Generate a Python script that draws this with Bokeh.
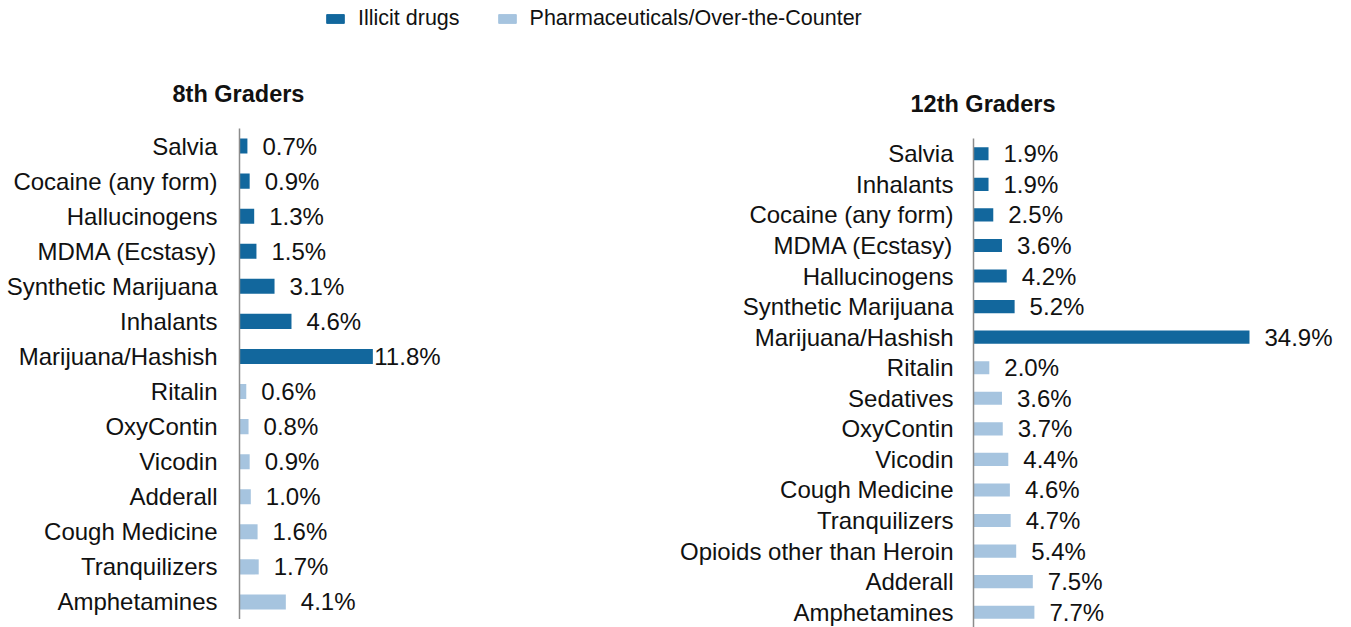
from bokeh.plotting import figure
from bokeh.models import FactorRange, Range1d, ColumnDataSource, Legend, LegendItem, Spacer
from bokeh.layouts import column, row
from bokeh.embed import file_html
from bokeh.resources import INLINE
import numpy as np

# ---- data ----
g8_cats = ["Salvia", "Cocaine (any form)", "Hallucinogens", "MDMA (Ecstasy)",
           "Synthetic Marijuana", "Inhalants", "Marijuana/Hashish",
           "Ritalin", "OxyContin", "Vicodin", "Adderall", "Cough Medicine",
           "Tranquilizers", "Amphetamines"]
g8_vals = [0.7, 0.9, 1.3, 1.5, 3.1, 4.6, 11.8, 0.6, 0.8, 0.9, 1.0, 1.6, 1.7, 4.1]
g8_kind = ["illicit"] * 7 + ["pharma"] * 7

g12_cats = ["Salvia", "Inhalants", "Cocaine (any form)", "MDMA (Ecstasy)",
            "Hallucinogens", "Synthetic Marijuana", "Marijuana/Hashish",
            "Ritalin", "Sedatives", "OxyContin", "Vicodin", "Cough Medicine",
            "Tranquilizers", "Opioids other than Heroin", "Adderall", "Amphetamines"]
g12_vals = [1.9, 1.9, 2.5, 3.6, 4.2, 5.2, 34.9, 2.0, 3.6, 3.7, 4.4, 4.6, 4.7, 5.4, 7.5, 7.7]
g12_kind = ["illicit"] * 7 + ["pharma"] * 9

series_labels = ["Illicit drugs", "Pharmaceuticals/Over-the-Counter"]

DARK = "#12679D"
LIGHT = "#A6C4DF"
FONT = "Liberation Sans"
colmap = {"illicit": DARK, "pharma": LIGHT}


def panel(cats, vals, kinds, width, height, border_left, border_top, xmax,
          label_clip, title, title_offset, title_standoff, standoff):
    vals = np.array(vals, dtype=float)
    src = ColumnDataSource(dict(
        cat=cats, val=vals, color=[colmap[k] for k in kinds],
        lx=np.minimum(vals, label_clip),
        lbl=[f"{v:.1f}%" for v in vals]))
    p = figure(width=width, height=height,
               y_range=FactorRange(factors=cats[::-1], range_padding=0),
               x_range=Range1d(0, xmax), x_axis_location=None,
               toolbar_location=None, output_backend="svg",
               min_border_left=border_left, min_border_top=border_top,
               min_border_bottom=0, min_border_right=0,
               outline_line_color=None, background_fill_color=None,
               border_fill_color=None)
    p.grid.visible = False
    p.hbar(y="cat", left=0, right="val", height=0.43, color="color",
           line_color=None, source=src)
    p.text(x="lx", y="cat", text="lbl", x_offset=15, text_align="left",
           text_baseline="middle", text_font_size="24px",
           text_font={"value": FONT}, text_color="#111111", source=src)
    ax = p.yaxis[0]
    ax.major_tick_line_color = None
    ax.minor_tick_line_color = None
    ax.axis_line_color = "#8c8c8c"
    ax.axis_line_width = 1.5
    ax.major_label_text_font = FONT
    ax.major_label_text_font_size = "24px"
    ax.major_label_text_color = "#111111"
    ax.major_label_standoff = standoff
    p.title.text = title
    p.title.align = "left"
    p.title.offset = title_offset
    p.title.standoff = title_standoff
    p.title.text_font = FONT
    p.title.text_font_size = "23.5px"
    p.title.text_font_style = "bold"
    p.title.text_color = "#111111"
    return p


left = panel(g8_cats, g8_vals, g8_kind, 668, 583, 239, 92, 37.96, 10.6,
             "8th Graders", -67, 44, 16)
right = panel(g12_cats, g12_vals, g12_kind, 683, 581, 305, 92, 47.8, 60.0,
              "12th Graders", -63, 43, 14)

# ---- legend strip ----
lg = figure(width=1351, height=36, x_range=Range1d(0, 1), y_range=Range1d(0, 1),
            toolbar_location=None, output_backend="svg",
            x_axis_location=None, y_axis_location=None,
            min_border=0, outline_line_color=None)
lg.grid.visible = False
r1 = lg.rect(x=[5], y=[5], width=1, height=1, color=DARK)
r2 = lg.rect(x=[5], y=[5], width=1, height=1, color=LIGHT)
legend = Legend(items=[LegendItem(label=series_labels[0], renderers=[r1]),
                       LegendItem(label=series_labels[1], renderers=[r2])],
                orientation="horizontal", location=(324, 5),
                glyph_width=22, glyph_height=11, label_standoff=12, spacing=36,
                padding=0, margin=0, border_line_color=None,
                background_fill_alpha=0, label_text_font=FONT,
                label_text_font_size="21.5px", label_text_color="#111111",
                label_height=22)
lg.add_layout(legend)

layout = column(lg, row(left, column(Spacer(width=683, height=10), right)))
open("out.html", "w").write(file_html(layout, INLINE))
